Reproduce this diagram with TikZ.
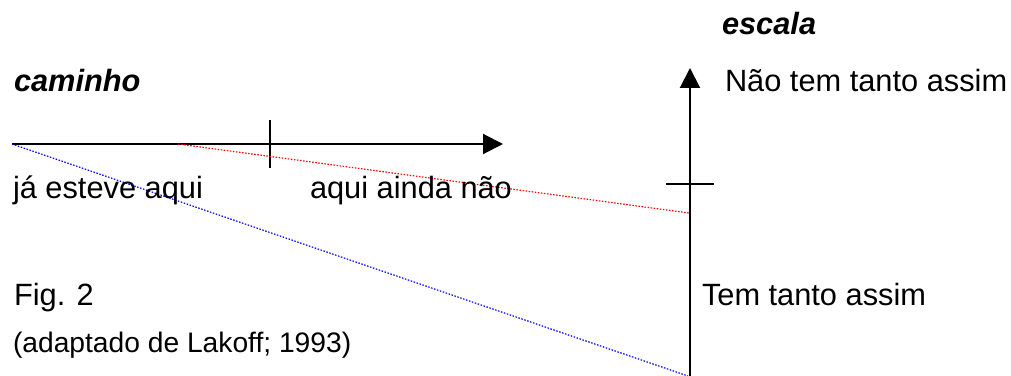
\documentclass[tikz,border=0pt]{standalone}
\usepackage{fontspec}
\setmainfont{Liberation Sans}
\usetikzlibrary{arrows.meta}
\begin{document}
\begin{tikzpicture}[x=0.39pt, y=-0.39pt, >={Triangle[length=7.8pt,width=7.8pt]}, line width=0.8pt,
	every node/.style={anchor=base west, inner sep=0pt, font=\fontsize{12}{14}\selectfont},
	titulo/.style={font=\fontsize{12}{14}\selectfont\bfseries\itshape},
	pontilhado/.style={line width=0.45pt, dash pattern=on 0.6pt off 0.6pt}]
	\useasboundingbox (0,0) rectangle (1011,376);
	% 1. eixos
	\coordinate (c0) at (12,144);
	\coordinate (c1) at (503,144);
	\coordinate (e0) at (690,376);
	\coordinate (e1) at (690,68);
	\draw[->] (c0) -- (c1);
	\draw[->] (e0) -- (e1);
	\draw (270,120) -- (270,168);
	\draw (666,184) -- (714,184);
	
	% 2. linhas pontilhadas
	\coordinate (r0) at (178,144);
	\coordinate (r1) at (689,213);
	\coordinate (b1) at (688,376);
	\draw[pontilhado, red] (r0) -- (r1);
	\draw[pontilhado, blue] (c0) -- (b1);
	
	% 3. textos
	\node[titulo] (caminho) at (13,92) {caminho};
	\node[titulo] (escala) at (721,35) {escala};
	\node (naotem) at (724,92) {Não tem tanto assim};
	\node (tem) at (701,306) {Tem tanto assim};
	\node (esteve) at (12,199) {já esteve aqui};
	\node (ainda) at (309,199) {aqui ainda não};
	\node (fig) at (13,306) {Fig. 2};
	\node[font=\fontsize{11}{13}\selectfont] (fonte) at (12,353) {(adaptado de Lakoff; 1993)};
\end{tikzpicture}
\end{document}
